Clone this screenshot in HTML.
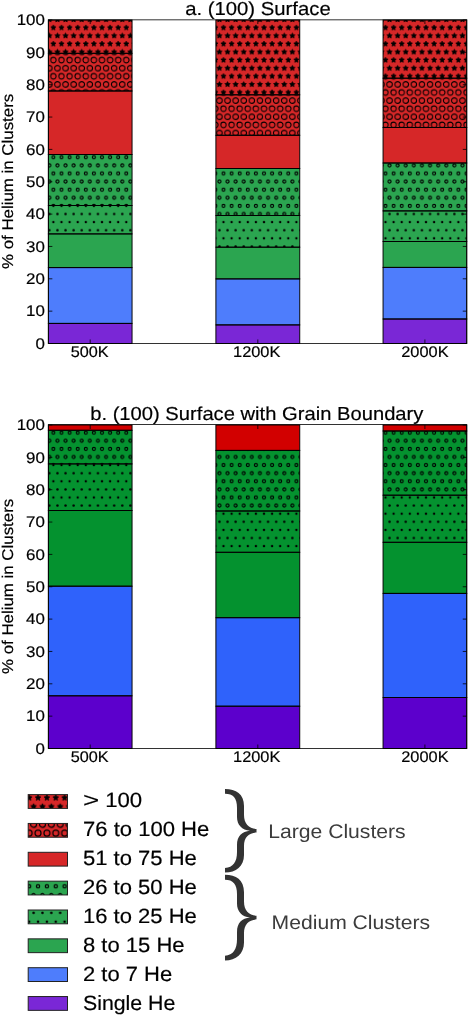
<!DOCTYPE html><html><head><meta charset="utf-8"><style>html,body{margin:0;padding:0;background:#fff;overflow:hidden;width:470px;height:1016px;}svg{display:block;will-change:transform;}text{font-family:"Liberation Sans",sans-serif;text-rendering:geometricPrecision;} .kt{stroke:#000;stroke-width:0.18px;}</style></head><body>
<svg width="470" height="1016" viewBox="0 0 470 1016">
<defs>
<pattern id="h_star" patternUnits="userSpaceOnUse" x="4.80" y="11.50" width="8.100" height="16.200"><polygon points="0.00,-2.75 -0.81,-1.11 -2.62,-0.85 -1.31,0.42 -1.62,2.22 -0.00,1.38 1.62,2.22 1.31,0.42 2.62,-0.85 0.81,-1.11" fill="#000" stroke="#000" stroke-width="0.70" stroke-linejoin="miter"/><polygon points="8.10,-2.75 7.29,-1.11 5.48,-0.85 6.79,0.42 6.48,2.22 8.10,1.38 9.72,2.22 9.41,0.42 10.72,-0.85 8.91,-1.11" fill="#000" stroke="#000" stroke-width="0.70" stroke-linejoin="miter"/><polygon points="0.00,13.45 -0.81,15.09 -2.62,15.35 -1.31,16.62 -1.62,18.42 -0.00,17.57 1.62,18.42 1.31,16.62 2.62,15.35 0.81,15.09" fill="#000" stroke="#000" stroke-width="0.70" stroke-linejoin="miter"/><polygon points="8.10,13.45 7.29,15.09 5.48,15.35 6.79,16.62 6.48,18.42 8.10,17.57 9.72,18.42 9.41,16.62 10.72,15.35 8.91,15.09" fill="#000" stroke="#000" stroke-width="0.70" stroke-linejoin="miter"/><polygon points="4.05,5.35 3.24,6.99 1.43,7.25 2.74,8.52 2.43,10.32 4.05,9.47 5.67,10.32 5.36,8.52 6.67,7.25 4.86,6.99" fill="#000" stroke="#000" stroke-width="0.70" stroke-linejoin="miter"/></pattern>
<pattern id="l_star" patternUnits="userSpaceOnUse" x="29.20" y="797.80" width="8.850" height="17.700"><polygon points="0.00,-3.00 -0.88,-1.22 -2.86,-0.93 -1.43,0.46 -1.77,2.43 -0.00,1.50 1.77,2.43 1.43,0.46 2.86,-0.93 0.88,-1.22" fill="#000" stroke="#000" stroke-width="0.76" stroke-linejoin="miter"/><polygon points="8.85,-3.00 7.97,-1.22 5.99,-0.93 7.42,0.46 7.08,2.43 8.85,1.50 10.62,2.43 10.28,0.46 11.71,-0.93 9.73,-1.22" fill="#000" stroke="#000" stroke-width="0.76" stroke-linejoin="miter"/><polygon points="0.00,14.70 -0.88,16.48 -2.86,16.77 -1.43,18.16 -1.77,20.13 -0.00,19.20 1.77,20.13 1.43,18.16 2.86,16.77 0.88,16.48" fill="#000" stroke="#000" stroke-width="0.76" stroke-linejoin="miter"/><polygon points="8.85,14.70 7.97,16.48 5.99,16.77 7.42,18.16 7.08,20.13 8.85,19.20 10.62,20.13 10.28,18.16 11.71,16.77 9.73,16.48" fill="#000" stroke="#000" stroke-width="0.76" stroke-linejoin="miter"/><polygon points="4.42,5.85 3.54,7.63 1.57,7.92 3.00,9.31 2.66,11.28 4.42,10.35 6.19,11.28 5.85,9.31 7.28,7.92 5.31,7.63" fill="#000" stroke="#000" stroke-width="0.76" stroke-linejoin="miter"/></pattern>
<pattern id="h_O" patternUnits="userSpaceOnUse" x="4.80" y="11.50" width="8.100" height="16.200"><circle cx="0.00" cy="0.00" r="2.75" fill="none" stroke="#000" stroke-width="1.05"/><circle cx="8.10" cy="0.00" r="2.75" fill="none" stroke="#000" stroke-width="1.05"/><circle cx="0.00" cy="16.20" r="2.75" fill="none" stroke="#000" stroke-width="1.05"/><circle cx="8.10" cy="16.20" r="2.75" fill="none" stroke="#000" stroke-width="1.05"/><circle cx="4.05" cy="8.10" r="2.75" fill="none" stroke="#000" stroke-width="1.05"/></pattern>
<pattern id="l_O" patternUnits="userSpaceOnUse" x="29.20" y="797.80" width="8.850" height="17.700"><circle cx="0.00" cy="0.00" r="3.00" fill="none" stroke="#000" stroke-width="1.15"/><circle cx="8.85" cy="0.00" r="3.00" fill="none" stroke="#000" stroke-width="1.15"/><circle cx="0.00" cy="17.70" r="3.00" fill="none" stroke="#000" stroke-width="1.15"/><circle cx="8.85" cy="17.70" r="3.00" fill="none" stroke="#000" stroke-width="1.15"/><circle cx="4.42" cy="8.85" r="3.00" fill="none" stroke="#000" stroke-width="1.15"/></pattern>
<pattern id="h_o" patternUnits="userSpaceOnUse" x="4.80" y="11.50" width="8.100" height="16.200"><circle cx="0.00" cy="0.00" r="1.50" fill="none" stroke="#000" stroke-width="1.10"/><circle cx="8.10" cy="0.00" r="1.50" fill="none" stroke="#000" stroke-width="1.10"/><circle cx="0.00" cy="16.20" r="1.50" fill="none" stroke="#000" stroke-width="1.10"/><circle cx="8.10" cy="16.20" r="1.50" fill="none" stroke="#000" stroke-width="1.10"/><circle cx="4.05" cy="8.10" r="1.50" fill="none" stroke="#000" stroke-width="1.10"/></pattern>
<pattern id="l_o" patternUnits="userSpaceOnUse" x="29.20" y="797.80" width="8.850" height="17.700"><circle cx="0.00" cy="0.00" r="1.64" fill="none" stroke="#000" stroke-width="1.20"/><circle cx="8.85" cy="0.00" r="1.64" fill="none" stroke="#000" stroke-width="1.20"/><circle cx="0.00" cy="17.70" r="1.64" fill="none" stroke="#000" stroke-width="1.20"/><circle cx="8.85" cy="17.70" r="1.64" fill="none" stroke="#000" stroke-width="1.20"/><circle cx="4.42" cy="8.85" r="1.64" fill="none" stroke="#000" stroke-width="1.20"/></pattern>
<pattern id="h_dot" patternUnits="userSpaceOnUse" x="4.80" y="11.50" width="8.100" height="16.200"><circle cx="0.00" cy="0.00" r="1.20" fill="#000"/><circle cx="8.10" cy="0.00" r="1.20" fill="#000"/><circle cx="0.00" cy="16.20" r="1.20" fill="#000"/><circle cx="8.10" cy="16.20" r="1.20" fill="#000"/><circle cx="4.05" cy="8.10" r="1.20" fill="#000"/></pattern>
<pattern id="l_dot" patternUnits="userSpaceOnUse" x="29.20" y="797.80" width="8.850" height="17.700"><circle cx="0.00" cy="0.00" r="1.31" fill="#000"/><circle cx="8.85" cy="0.00" r="1.31" fill="#000"/><circle cx="0.00" cy="17.70" r="1.31" fill="#000"/><circle cx="8.85" cy="17.70" r="1.31" fill="#000"/><circle cx="4.42" cy="8.85" r="1.31" fill="#000"/></pattern>
</defs>
<rect x="0" y="0" width="470" height="1016" fill="#fff"/>
<rect x="48.35" y="323.40" width="83.70" height="20.10" fill="#7a27d6"/><rect x="48.35" y="267.60" width="83.70" height="55.80" fill="#4e7dfc"/><rect x="48.35" y="233.90" width="83.70" height="33.70" fill="#2ba550"/><rect x="48.35" y="205.50" width="83.70" height="28.40" fill="#2ba550"/><rect x="48.35" y="205.50" width="83.70" height="28.40" fill="url(#h_dot)"/><rect x="48.35" y="154.50" width="83.70" height="51.00" fill="#2ba550"/><rect x="48.35" y="154.50" width="83.70" height="51.00" fill="url(#h_o)"/><rect x="48.35" y="91.00" width="83.70" height="63.50" fill="#d62728"/><rect x="48.35" y="53.30" width="83.70" height="37.70" fill="#d62728"/><rect x="48.35" y="53.30" width="83.70" height="37.70" fill="url(#h_O)"/><rect x="48.35" y="20.00" width="83.70" height="33.30" fill="#d62728"/><rect x="48.35" y="20.00" width="83.70" height="33.30" fill="url(#h_star)"/><rect x="48.35" y="323.40" width="83.70" height="20.10" fill="none" stroke="#000" stroke-width="0.95"/><rect x="48.35" y="267.60" width="83.70" height="55.80" fill="none" stroke="#000" stroke-width="0.95"/><rect x="48.35" y="233.90" width="83.70" height="33.70" fill="none" stroke="#000" stroke-width="0.95"/><rect x="48.35" y="205.50" width="83.70" height="28.40" fill="none" stroke="#000" stroke-width="0.95"/><rect x="48.35" y="154.50" width="83.70" height="51.00" fill="none" stroke="#000" stroke-width="0.95"/><rect x="48.35" y="91.00" width="83.70" height="63.50" fill="none" stroke="#000" stroke-width="0.95"/><rect x="48.35" y="53.30" width="83.70" height="37.70" fill="none" stroke="#000" stroke-width="0.95"/><rect x="48.35" y="20.00" width="83.70" height="33.30" fill="none" stroke="#000" stroke-width="0.95"/><rect x="215.90" y="324.90" width="83.85" height="18.60" fill="#7a27d6"/><rect x="215.90" y="278.90" width="83.85" height="46.00" fill="#4e7dfc"/><rect x="215.90" y="247.20" width="83.85" height="31.70" fill="#2ba550"/><rect x="215.90" y="215.50" width="83.85" height="31.70" fill="#2ba550"/><rect x="215.90" y="215.50" width="83.85" height="31.70" fill="url(#h_dot)"/><rect x="215.90" y="168.50" width="83.85" height="47.00" fill="#2ba550"/><rect x="215.90" y="168.50" width="83.85" height="47.00" fill="url(#h_o)"/><rect x="215.90" y="135.30" width="83.85" height="33.20" fill="#d62728"/><rect x="215.90" y="94.80" width="83.85" height="40.50" fill="#d62728"/><rect x="215.90" y="94.80" width="83.85" height="40.50" fill="url(#h_O)"/><rect x="215.90" y="20.00" width="83.85" height="74.80" fill="#d62728"/><rect x="215.90" y="20.00" width="83.85" height="74.80" fill="url(#h_star)"/><rect x="215.90" y="324.90" width="83.85" height="18.60" fill="none" stroke="#000" stroke-width="0.95"/><rect x="215.90" y="278.90" width="83.85" height="46.00" fill="none" stroke="#000" stroke-width="0.95"/><rect x="215.90" y="247.20" width="83.85" height="31.70" fill="none" stroke="#000" stroke-width="0.95"/><rect x="215.90" y="215.50" width="83.85" height="31.70" fill="none" stroke="#000" stroke-width="0.95"/><rect x="215.90" y="168.50" width="83.85" height="47.00" fill="none" stroke="#000" stroke-width="0.95"/><rect x="215.90" y="135.30" width="83.85" height="33.20" fill="none" stroke="#000" stroke-width="0.95"/><rect x="215.90" y="94.80" width="83.85" height="40.50" fill="none" stroke="#000" stroke-width="0.95"/><rect x="215.90" y="20.00" width="83.85" height="74.80" fill="none" stroke="#000" stroke-width="0.95"/><rect x="383.05" y="319.00" width="83.70" height="24.50" fill="#7a27d6"/><rect x="383.05" y="267.40" width="83.70" height="51.60" fill="#4e7dfc"/><rect x="383.05" y="241.50" width="83.70" height="25.90" fill="#2ba550"/><rect x="383.05" y="210.90" width="83.70" height="30.60" fill="#2ba550"/><rect x="383.05" y="210.90" width="83.70" height="30.60" fill="url(#h_dot)"/><rect x="383.05" y="163.00" width="83.70" height="47.90" fill="#2ba550"/><rect x="383.05" y="163.00" width="83.70" height="47.90" fill="url(#h_o)"/><rect x="383.05" y="127.50" width="83.70" height="35.50" fill="#d62728"/><rect x="383.05" y="78.20" width="83.70" height="49.30" fill="#d62728"/><rect x="383.05" y="78.20" width="83.70" height="49.30" fill="url(#h_O)"/><rect x="383.05" y="20.00" width="83.70" height="58.20" fill="#d62728"/><rect x="383.05" y="20.00" width="83.70" height="58.20" fill="url(#h_star)"/><rect x="383.05" y="319.00" width="83.70" height="24.50" fill="none" stroke="#000" stroke-width="0.95"/><rect x="383.05" y="267.40" width="83.70" height="51.60" fill="none" stroke="#000" stroke-width="0.95"/><rect x="383.05" y="241.50" width="83.70" height="25.90" fill="none" stroke="#000" stroke-width="0.95"/><rect x="383.05" y="210.90" width="83.70" height="30.60" fill="none" stroke="#000" stroke-width="0.95"/><rect x="383.05" y="163.00" width="83.70" height="47.90" fill="none" stroke="#000" stroke-width="0.95"/><rect x="383.05" y="127.50" width="83.70" height="35.50" fill="none" stroke="#000" stroke-width="0.95"/><rect x="383.05" y="78.20" width="83.70" height="49.30" fill="none" stroke="#000" stroke-width="0.95"/><rect x="383.05" y="20.00" width="83.70" height="58.20" fill="none" stroke="#000" stroke-width="0.95"/><rect x="48.35" y="19.85" width="418.40" height="323.65" fill="none" stroke="#000" stroke-width="0.8"/><path d="M48.35,343.50h4M466.75,343.50h-4M48.35,311.15h4M466.75,311.15h-4M48.35,278.80h4M466.75,278.80h-4M48.35,246.45h4M466.75,246.45h-4M48.35,214.10h4M466.75,214.10h-4M48.35,181.75h4M466.75,181.75h-4M48.35,149.40h4M466.75,149.40h-4M48.35,117.05h4M466.75,117.05h-4M48.35,84.70h4M466.75,84.70h-4M48.35,52.35h4M466.75,52.35h-4M48.35,20.00h4M466.75,20.00h-4M90.20,343.50v-4M90.20,20.00v4M257.82,343.50v-4M257.82,20.00v4M424.90,343.50v-4M424.90,20.00v4" stroke="#000" stroke-width="0.8" fill="none"/><text class="kt" x="44.9" y="348.65" font-size="15.4" text-anchor="end" textLength="9.41" lengthAdjust="spacingAndGlyphs">0</text><text class="kt" x="44.9" y="316.30" font-size="15.4" text-anchor="end" textLength="18.83" lengthAdjust="spacingAndGlyphs">10</text><text class="kt" x="44.9" y="283.95" font-size="15.4" text-anchor="end" textLength="18.83" lengthAdjust="spacingAndGlyphs">20</text><text class="kt" x="44.9" y="251.60" font-size="15.4" text-anchor="end" textLength="18.83" lengthAdjust="spacingAndGlyphs">30</text><text class="kt" x="44.9" y="219.25" font-size="15.4" text-anchor="end" textLength="18.83" lengthAdjust="spacingAndGlyphs">40</text><text class="kt" x="44.9" y="186.90" font-size="15.4" text-anchor="end" textLength="18.83" lengthAdjust="spacingAndGlyphs">50</text><text class="kt" x="44.9" y="154.55" font-size="15.4" text-anchor="end" textLength="18.83" lengthAdjust="spacingAndGlyphs">60</text><text class="kt" x="44.9" y="122.20" font-size="15.4" text-anchor="end" textLength="18.83" lengthAdjust="spacingAndGlyphs">70</text><text class="kt" x="44.9" y="89.85" font-size="15.4" text-anchor="end" textLength="18.83" lengthAdjust="spacingAndGlyphs">80</text><text class="kt" x="44.9" y="57.50" font-size="15.4" text-anchor="end" textLength="18.83" lengthAdjust="spacingAndGlyphs">90</text><text class="kt" x="44.9" y="25.15" font-size="15.4" text-anchor="end" textLength="28.25" lengthAdjust="spacingAndGlyphs">100</text><text class="kt" x="89.70" y="357.20" font-size="15.4" text-anchor="middle" textLength="37.95" lengthAdjust="spacingAndGlyphs">500K</text><text class="kt" x="256.72" y="357.20" font-size="15.4" text-anchor="middle" textLength="47.37" lengthAdjust="spacingAndGlyphs">1200K</text><text class="kt" x="424.90" y="357.20" font-size="15.4" text-anchor="middle" textLength="47.37" lengthAdjust="spacingAndGlyphs">2000K</text><text class="kt" x="257.95" y="14.50" font-size="18.8" text-anchor="middle" textLength="145.45" lengthAdjust="spacingAndGlyphs">a. (100) Surface</text><text class="kt" transform="translate(12.7,181.40) rotate(-90)" x="0" y="0" font-size="15.6" text-anchor="middle" textLength="175.2" lengthAdjust="spacingAndGlyphs">% of Helium in Clusters</text>
<rect x="48.35" y="695.80" width="83.70" height="52.70" fill="#5c00cc"/><rect x="48.35" y="586.20" width="83.70" height="109.60" fill="#2f62fb"/><rect x="48.35" y="510.50" width="83.70" height="75.70" fill="#04922f"/><rect x="48.35" y="463.90" width="83.70" height="46.60" fill="#04922f"/><rect x="48.35" y="463.90" width="83.70" height="46.60" fill="url(#h_dot)"/><rect x="48.35" y="430.30" width="83.70" height="33.60" fill="#04922f"/><rect x="48.35" y="430.30" width="83.70" height="33.60" fill="url(#h_o)"/><rect x="48.35" y="425.00" width="83.70" height="5.30" fill="#d20000"/><rect x="48.35" y="695.80" width="83.70" height="52.70" fill="none" stroke="#000" stroke-width="0.95"/><rect x="48.35" y="586.20" width="83.70" height="109.60" fill="none" stroke="#000" stroke-width="0.95"/><rect x="48.35" y="510.50" width="83.70" height="75.70" fill="none" stroke="#000" stroke-width="0.95"/><rect x="48.35" y="463.90" width="83.70" height="46.60" fill="none" stroke="#000" stroke-width="0.95"/><rect x="48.35" y="430.30" width="83.70" height="33.60" fill="none" stroke="#000" stroke-width="0.95"/><rect x="48.35" y="425.00" width="83.70" height="5.30" fill="none" stroke="#000" stroke-width="0.95"/><rect x="215.90" y="706.20" width="83.85" height="42.30" fill="#5c00cc"/><rect x="215.90" y="617.70" width="83.85" height="88.50" fill="#2f62fb"/><rect x="215.90" y="552.30" width="83.85" height="65.40" fill="#04922f"/><rect x="215.90" y="511.00" width="83.85" height="41.30" fill="#04922f"/><rect x="215.90" y="511.00" width="83.85" height="41.30" fill="url(#h_dot)"/><rect x="215.90" y="450.40" width="83.85" height="60.60" fill="#04922f"/><rect x="215.90" y="450.40" width="83.85" height="60.60" fill="url(#h_o)"/><rect x="215.90" y="425.00" width="83.85" height="25.40" fill="#d20000"/><rect x="215.90" y="706.20" width="83.85" height="42.30" fill="none" stroke="#000" stroke-width="0.95"/><rect x="215.90" y="617.70" width="83.85" height="88.50" fill="none" stroke="#000" stroke-width="0.95"/><rect x="215.90" y="552.30" width="83.85" height="65.40" fill="none" stroke="#000" stroke-width="0.95"/><rect x="215.90" y="511.00" width="83.85" height="41.30" fill="none" stroke="#000" stroke-width="0.95"/><rect x="215.90" y="450.40" width="83.85" height="60.60" fill="none" stroke="#000" stroke-width="0.95"/><rect x="215.90" y="425.00" width="83.85" height="25.40" fill="none" stroke="#000" stroke-width="0.95"/><rect x="383.05" y="697.50" width="83.70" height="51.00" fill="#5c00cc"/><rect x="383.05" y="593.40" width="83.70" height="104.10" fill="#2f62fb"/><rect x="383.05" y="542.30" width="83.70" height="51.10" fill="#04922f"/><rect x="383.05" y="495.20" width="83.70" height="47.10" fill="#04922f"/><rect x="383.05" y="495.20" width="83.70" height="47.10" fill="url(#h_dot)"/><rect x="383.05" y="431.00" width="83.70" height="64.20" fill="#04922f"/><rect x="383.05" y="431.00" width="83.70" height="64.20" fill="url(#h_o)"/><rect x="383.05" y="425.00" width="83.70" height="6.00" fill="#d20000"/><rect x="383.05" y="697.50" width="83.70" height="51.00" fill="none" stroke="#000" stroke-width="0.95"/><rect x="383.05" y="593.40" width="83.70" height="104.10" fill="none" stroke="#000" stroke-width="0.95"/><rect x="383.05" y="542.30" width="83.70" height="51.10" fill="none" stroke="#000" stroke-width="0.95"/><rect x="383.05" y="495.20" width="83.70" height="47.10" fill="none" stroke="#000" stroke-width="0.95"/><rect x="383.05" y="431.00" width="83.70" height="64.20" fill="none" stroke="#000" stroke-width="0.95"/><rect x="383.05" y="425.00" width="83.70" height="6.00" fill="none" stroke="#000" stroke-width="0.95"/><rect x="48.35" y="424.60" width="418.40" height="323.90" fill="none" stroke="#000" stroke-width="0.8"/><path d="M48.35,748.50h4M466.75,748.50h-4M48.35,716.15h4M466.75,716.15h-4M48.35,683.80h4M466.75,683.80h-4M48.35,651.45h4M466.75,651.45h-4M48.35,619.10h4M466.75,619.10h-4M48.35,586.75h4M466.75,586.75h-4M48.35,554.40h4M466.75,554.40h-4M48.35,522.05h4M466.75,522.05h-4M48.35,489.70h4M466.75,489.70h-4M48.35,457.35h4M466.75,457.35h-4M48.35,425.00h4M466.75,425.00h-4M90.20,748.50v-4M90.20,425.00v4M257.82,748.50v-4M257.82,425.00v4M424.90,748.50v-4M424.90,425.00v4" stroke="#000" stroke-width="0.8" fill="none"/><text class="kt" x="44.9" y="753.65" font-size="15.4" text-anchor="end" textLength="9.41" lengthAdjust="spacingAndGlyphs">0</text><text class="kt" x="44.9" y="721.30" font-size="15.4" text-anchor="end" textLength="18.83" lengthAdjust="spacingAndGlyphs">10</text><text class="kt" x="44.9" y="688.95" font-size="15.4" text-anchor="end" textLength="18.83" lengthAdjust="spacingAndGlyphs">20</text><text class="kt" x="44.9" y="656.60" font-size="15.4" text-anchor="end" textLength="18.83" lengthAdjust="spacingAndGlyphs">30</text><text class="kt" x="44.9" y="624.25" font-size="15.4" text-anchor="end" textLength="18.83" lengthAdjust="spacingAndGlyphs">40</text><text class="kt" x="44.9" y="591.90" font-size="15.4" text-anchor="end" textLength="18.83" lengthAdjust="spacingAndGlyphs">50</text><text class="kt" x="44.9" y="559.55" font-size="15.4" text-anchor="end" textLength="18.83" lengthAdjust="spacingAndGlyphs">60</text><text class="kt" x="44.9" y="527.20" font-size="15.4" text-anchor="end" textLength="18.83" lengthAdjust="spacingAndGlyphs">70</text><text class="kt" x="44.9" y="494.85" font-size="15.4" text-anchor="end" textLength="18.83" lengthAdjust="spacingAndGlyphs">80</text><text class="kt" x="44.9" y="462.50" font-size="15.4" text-anchor="end" textLength="18.83" lengthAdjust="spacingAndGlyphs">90</text><text class="kt" x="44.9" y="430.15" font-size="15.4" text-anchor="end" textLength="28.25" lengthAdjust="spacingAndGlyphs">100</text><text class="kt" x="89.70" y="762.20" font-size="15.4" text-anchor="middle" textLength="37.95" lengthAdjust="spacingAndGlyphs">500K</text><text class="kt" x="256.72" y="762.20" font-size="15.4" text-anchor="middle" textLength="47.37" lengthAdjust="spacingAndGlyphs">1200K</text><text class="kt" x="424.90" y="762.20" font-size="15.4" text-anchor="middle" textLength="47.37" lengthAdjust="spacingAndGlyphs">2000K</text><text class="kt" x="256.80" y="419.50" font-size="18.8" text-anchor="middle" textLength="333.19" lengthAdjust="spacingAndGlyphs">b. (100) Surface with Grain Boundary</text><text class="kt" transform="translate(12.7,586.40) rotate(-90)" x="0" y="0" font-size="15.6" text-anchor="middle" textLength="175.2" lengthAdjust="spacingAndGlyphs">% of Helium in Clusters</text>
<rect x="28.2" y="794.60" width="39.3" height="13.8" fill="#d62728"/><rect x="28.2" y="794.60" width="39.3" height="13.8" fill="url(#l_star)"/><rect x="28.2" y="794.60" width="39.3" height="13.8" fill="none" stroke="#222" stroke-width="1"/><text class="kt" x="83.0" y="807.40" font-size="20.6" textLength="16.26" lengthAdjust="spacingAndGlyphs">&gt;</text><text class="kt" x="105.2" y="807.40" font-size="20.6" textLength="37.03" lengthAdjust="spacingAndGlyphs">100</text><rect x="28.2" y="823.45" width="39.3" height="13.8" fill="#d62728"/><rect x="28.2" y="823.45" width="39.3" height="13.8" fill="url(#l_O)"/><rect x="28.2" y="823.45" width="39.3" height="13.8" fill="none" stroke="#222" stroke-width="1"/><text class="kt" x="83.0" y="836.30" font-size="20.6" textLength="126.21" lengthAdjust="spacingAndGlyphs">76 to 100 He</text><rect x="28.2" y="852.30" width="39.3" height="13.8" fill="#d62728"/><rect x="28.2" y="852.30" width="39.3" height="13.8" fill="none" stroke="#222" stroke-width="1"/><text class="kt" x="83.0" y="865.20" font-size="20.6" textLength="113.87" lengthAdjust="spacingAndGlyphs">51 to 75 He</text><rect x="28.2" y="881.15" width="39.3" height="13.8" fill="#2ba550"/><rect x="28.2" y="881.15" width="39.3" height="13.8" fill="url(#l_o)"/><rect x="28.2" y="881.15" width="39.3" height="13.8" fill="none" stroke="#222" stroke-width="1"/><text class="kt" x="83.0" y="894.10" font-size="20.6" textLength="113.87" lengthAdjust="spacingAndGlyphs">26 to 50 He</text><rect x="28.2" y="910.00" width="39.3" height="13.8" fill="#2ba550"/><rect x="28.2" y="910.00" width="39.3" height="13.8" fill="url(#l_dot)"/><rect x="28.2" y="910.00" width="39.3" height="13.8" fill="none" stroke="#222" stroke-width="1"/><text class="kt" x="83.0" y="923.00" font-size="20.6" textLength="113.87" lengthAdjust="spacingAndGlyphs">16 to 25 He</text><rect x="28.2" y="938.85" width="39.3" height="13.8" fill="#2ba550"/><rect x="28.2" y="938.85" width="39.3" height="13.8" fill="none" stroke="#222" stroke-width="1"/><text class="kt" x="83.0" y="951.90" font-size="20.6" textLength="101.53" lengthAdjust="spacingAndGlyphs">8 to 15 He</text><rect x="28.2" y="967.70" width="39.3" height="13.8" fill="#4e7dfc"/><rect x="28.2" y="967.70" width="39.3" height="13.8" fill="none" stroke="#222" stroke-width="1"/><text class="kt" x="83.0" y="980.80" font-size="20.6" textLength="89.19" lengthAdjust="spacingAndGlyphs">2 to 7 He</text><rect x="28.2" y="996.55" width="39.3" height="13.8" fill="#7a27d6"/><rect x="28.2" y="996.55" width="39.3" height="13.8" fill="none" stroke="#222" stroke-width="1"/><text class="kt" x="83.0" y="1009.70" font-size="20.6" textLength="92.33" lengthAdjust="spacingAndGlyphs">Single He</text>
<path d="M225,789 C236,789 244,794 244,806 L244,815 C244,824 249,828.5 256.5,829 L256.5,832.5 C249,833 244,837 244,846 L244,855 C244,866 236,872.6 225,872.6 L225,868 C233,867.5 237,862 237,852 L237,845 C237,836 242,831.5 250,830.8 C242,830 237,825 237,817 L237,808 C237,798 233,793.8 225,793.8 Z" fill="#333"/>
<g transform="translate(0,85.80) translate(0,789) scale(1,1.0239) translate(0,-789)"><path d="M225,789 C236,789 244,794 244,806 L244,815 C244,824 249,828.5 256.5,829 L256.5,832.5 C249,833 244,837 244,846 L244,855 C244,866 236,872.6 225,872.6 L225,868 C233,867.5 237,862 237,852 L237,845 C237,836 242,831.5 250,830.8 C242,830 237,825 237,817 L237,808 C237,798 233,793.8 225,793.8 Z" fill="#333"/></g>
<text x="268.2" y="838.0" font-size="19.6" fill="#3c3c3c" textLength="137.50" lengthAdjust="spacingAndGlyphs">Large Clusters</text>
<text x="271.6" y="928.6" font-size="19.6" fill="#3c3c3c" textLength="158.50" lengthAdjust="spacingAndGlyphs">Medium Clusters</text>
</svg></body></html>
